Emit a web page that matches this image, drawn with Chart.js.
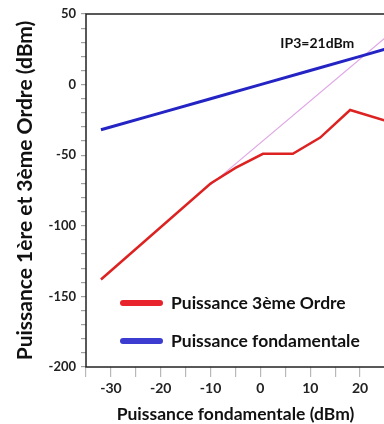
<!DOCTYPE html>
<html>
<head>
<meta charset="utf-8">
<script src="https://cdn.jsdelivr.net/npm/chart.js@4/dist/chart.umd.min.js"></script>
<style>
  html, body { margin: 0; padding: 0; background: #fff; }
  #wrap { width: 384px; height: 424px; overflow: hidden; position: relative; }
  canvas { display: block; }
</style>
</head>
<body>
<div id="wrap"><canvas id="c" width="388" height="424"></canvas></div>
<script>
// ---- Data ----
const thirdOrderX = [-32, -10, -5, 0.5, 6.5, 12, 18, 25];
const thirdOrderY = [-138, -70, -59, -49, -49, -37.5, -18, -25.5];
const fundamentalX = [-32, -20, -10, 0, 10, 20, 25];
const fundamentalY = [-32, -20, -10, 0, 10, 20, 25];
const extrapX = [-10, 25];
const extrapY = [-71, 33];
const seriesLabels = ['Puissance 3ème Ordre', 'Puissance fondamentale'];
const ip3Label = 'IP3=21dBm';
const ip3Pos = [4, 29];
const xTitle = 'Puissance fondamentale (dBm)';
const yTitle = 'Puissance 1ère et 3ème Ordre (dBm)';

const RED = '#dd2222';
const BLUE = '#2424c4';
const PINK = '#dfa6e6';
const FONT = 'Lato, "Open Sans", sans-serif';

function pts(xs, ys) { return xs.map((x, i) => ({x: x, y: ys[i]})); }

const boxPlugin = {
  id: 'box',
  afterDraw(chart) {
    const {ctx, chartArea: a} = chart;
    ctx.save();
    ctx.strokeStyle = '#222';
    ctx.lineWidth = 1.5;
    ctx.strokeRect(a.left, a.top, a.right - a.left, a.bottom - a.top);
    ctx.restore();
  }
};

const legendPlugin = {
  id: 'innerLegend',
  afterDatasetsDraw(chart) {
    const {ctx, chartArea: a} = chart;
    const items = [
      {label: chart.data.datasets[0].label, color: chart.data.datasets[0].legendColor},
      {label: chart.data.datasets[1].label, color: chart.data.datasets[1].legendColor}
    ];
    ctx.save();
    items.forEach((it, i) => {
      const y = a.top + 289 + i * 38;
      ctx.strokeStyle = it.color;
      ctx.lineWidth = 6;
      ctx.lineCap = 'round';
      ctx.beginPath();
      ctx.moveTo(a.left + 37, y);
      ctx.lineTo(a.left + 74, y);
      ctx.stroke();
      ctx.fillStyle = '#111';
      ctx.font = 'bold 17.5px ' + FONT;
      ctx.textAlign = 'left';
      ctx.textBaseline = 'middle';
      ctx.fillText(it.label, a.left + 85, y);
    });
    const xs = chart.scales.x, ys = chart.scales.y;
    ctx.font = 'bold 14px ' + FONT;
    ctx.fillStyle = '#111';
    ctx.fillText(ip3Label, xs.getPixelForValue(ip3Pos[0]), ys.getPixelForValue(ip3Pos[1]));
    ctx.restore();
  }
};

new Chart(document.getElementById('c'), {
  type: 'line',
  data: {
    datasets: [
      {label: seriesLabels[0], data: pts(thirdOrderX, thirdOrderY), borderColor: RED, legendColor: '#e8232b',
       borderWidth: 2.5, pointRadius: 0, tension: 0},
      {label: seriesLabels[1], data: pts(fundamentalX, fundamentalY), borderColor: BLUE, legendColor: '#3c3cd0',
       borderWidth: 3, pointRadius: 0, tension: 0},
      {label: 'extrap', data: pts(extrapX, extrapY), borderColor: PINK,
       borderWidth: 1.2, pointRadius: 0, tension: 0}
    ]
  },
  options: {
    responsive: false,
    animation: false,
    layout: {padding: {top: 14, right: 2, left: 0, bottom: 0}},
    plugins: {legend: {display: false}, tooltip: {enabled: false}},
    scales: {
      x: {
        type: 'linear', min: -35, max: 25,
        afterFit(s) { s.height = 57; },
        border: {display: false},
        grid: {drawOnChartArea: false, drawTicks: true, tickLength: 10, color: '#b8b8b8', lineWidth: 1.2},
        ticks: {stepSize: 5, autoSkip: false, maxRotation: 0, padding: 3,
          color: '#222', font: {family: FONT, size: 14, weight: 'bold'},
          callback: v => (v % 10 === 0 && v > -35) ? String(v) : ''},
        title: {display: true, text: xTitle, color: '#111',
          font: {family: FONT, size: 17.5, weight: 'bold', lineHeight: 1.1}, padding: {top: 0, bottom: 0}}
      },
      y: {
        type: 'linear', min: -200, max: 50,
        afterFit(s) { s.width = 86; },
        border: {display: false},
        grid: {drawOnChartArea: false, drawTicks: true, tickLength: 5, color: '#a0a0a0', lineWidth: 1.2},
        ticks: {stepSize: 10, autoSkip: false, padding: 5,
          color: '#222', font: {family: FONT, size: 13, weight: 'bold'},
          callback: v => (v % 50 === 0) ? String(v) : ''},
        title: {display: true, text: yTitle, color: '#111',
          font: {family: FONT, size: 21, weight: 'bold', lineHeight: 1.1}, padding: {top: 14, bottom: 0}}
      }
    }
  },
  plugins: [boxPlugin, legendPlugin]
});
</script>
</body>
</html>
